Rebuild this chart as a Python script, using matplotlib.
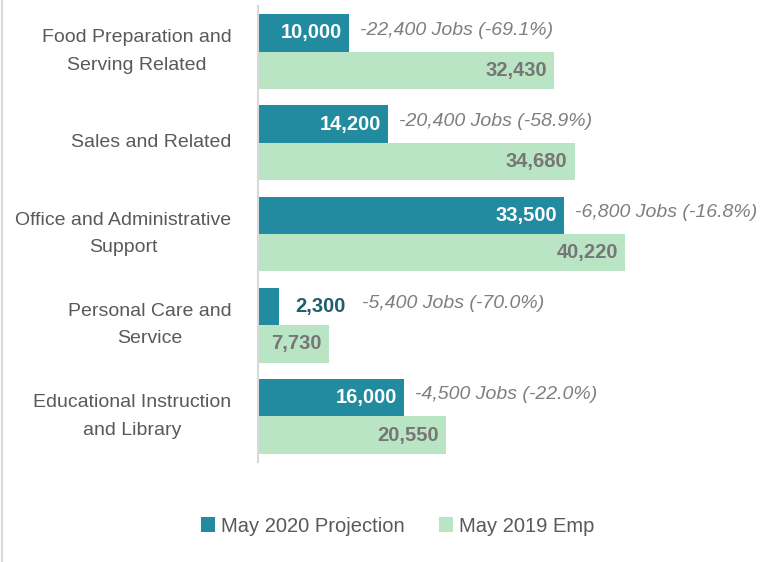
#!/usr/bin/env python

import matplotlib
matplotlib.use('Agg')
import matplotlib.pyplot as plt
from matplotlib import font_manager
from matplotlib.lines import Line2D

categories = ['Food Preparation and\nServing Related',
              'Sales and Related',
              'Office and Administrative\nSupport',
              'Personal Care and\nService',
              'Educational Instruction\nand Library']
proj_2020 = [10000, 14200, 33500, 2300, 16000]
emp_2019 = [32430, 34680, 40220, 7730, 20550]
job_change = ['-22,400 Jobs (-69.1%)', '-20,400 Jobs (-58.9%)',
              '-6,800 Jobs (-16.8%)', '-5,400 Jobs (-70.0%)',
              '-4,500 Jobs (-22.0%)']

TEAL = '#238b9f'
GREEN = '#b9e5c4'

names = set(f.name for f in font_manager.fontManager.ttflist)
if 'Liberation Sans Narrow' in names:
    plt.rcParams['font.family'] = ['Liberation Sans Narrow', 'DejaVu Sans']
else:
    plt.rcParams['font.family'] = ['Liberation Sans', 'DejaVu Sans']

fig = plt.figure(figsize=(7.67, 5.62), dpi=100)
ax = fig.add_axes([258 / 767, 1 - 462 / 562, 502 / 767, 456 / 562])

h = 0.41
ypos = list(range(len(categories)))
b1 = ax.barh([y - h / 2 for y in ypos], proj_2020, height=h, color=TEAL,
             label='May 2020 Projection')
b2 = ax.barh([y + h / 2 for y in ypos], emp_2019, height=h, color=GREEN,
             label='May 2019 Emp')

ax.set_xlim(0, 55000)
ax.set_ylim(4.5, -0.5)
ax.set_yticks(ypos)
ax.set_yticklabels(categories, fontsize=14, color='#595959')
for lab in ax.get_yticklabels():
    lab.set_multialignment('center')
    lab.set_linespacing(1.8)
    lab.set_va('center')
ax.tick_params(axis='y', length=0, pad=19)
ax.set_xticks([])
for s in ['top', 'right', 'bottom']:
    ax.spines[s].set_visible(False)
ax.spines['left'].set_color('#d9d9d9')
ax.spines['left'].set_linewidth(1.5)

# labels on the 2020 bars and the job change next to them
for y, v, txt in zip(ypos, proj_2020, job_change):
    if v > 5000:
        ax.annotate(f'{v:,}', (v, y - h / 2), xytext=(-5, 0),
                    textcoords='offset points', ha='right', va='center',
                    fontsize=14.5, fontweight='bold', color='white')
        ax.annotate(txt, (v, y - h / 2 - 0.03), xytext=(8, 0),
                    textcoords='offset points', ha='left', va='center',
                    fontsize=14, style='italic', color='#7f7f7f')
    else:
        ax.annotate(f'{v:,}', (v, y - h / 2), xytext=(12, 0),
                    textcoords='offset points', ha='left', va='center',
                    fontsize=14.5, fontweight='bold', color='#1d5f6b')
        ax.annotate(txt, (v, y - h / 2 - 0.03), xytext=(60, 0),
                    textcoords='offset points', ha='left', va='center',
                    fontsize=14, style='italic', color='#7f7f7f')

for y, v in zip(ypos, emp_2019):
    ax.annotate(f'{v:,}', (v, y + h / 2), xytext=(-5, 0),
                textcoords='offset points', ha='right', va='center',
                fontsize=14.5, fontweight='bold', color='#767676')

fig.legend(handles=[b1, b2], loc='center', bbox_to_anchor=(0.518, 1 - 526 / 562),
           ncol=2, frameon=False, fontsize=14.5, labelcolor='#595959',
           handlelength=0.7, handleheight=0.7, handletextpad=0.3,
           columnspacing=1.7)

# chart border on the left edge
fig.add_artist(Line2D([2 / 767, 2 / 767], [0, 1], color='#d9d9d9', lw=1.5))

fig.savefig('out.png', dpi=100)
